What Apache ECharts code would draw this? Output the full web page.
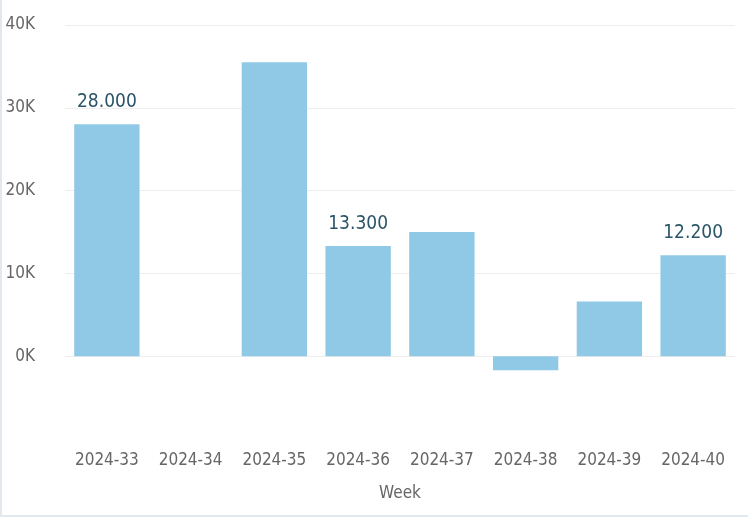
<!DOCTYPE html>
<html><head><meta charset="utf-8">
<script src="https://cdn.jsdelivr.net/npm/echarts@6/dist/echarts.min.js"></script>
<style>html,body{margin:0;padding:0;background:#fff}#c{width:748px;height:517px;box-sizing:border-box;border-left:2px solid #e3e8ee;border-bottom:2px solid #e3e8ee}</style>
</head><body><div id="c"></div>
<script>
const weeks = ['2024-33','2024-34','2024-35','2024-36','2024-37','2024-38','2024-39','2024-40'];
const values = [28000, null, 35500, 13300, 15000, -1700, 6600, 12200];
const labelledWeeks = ['2024-33','2024-36','2024-40'];
const yTicks = [-10000, 0, 10000, 20000, 30000, 40000];

const font = 'Liberation Sans Narrow, DejaVu Sans Condensed, sans-serif';
const chart = echarts.init(document.getElementById('c'));
chart.setOption({
  animation: false,
  grid: {left: 63, right: 13, top: 25, bottom: 76},
  xAxis: {
    type: 'category', data: weeks,
    axisLine: {show: false}, axisTick: {show: false},
    axisLabel: {color: '#666', fontFamily: font, fontSize: 17, margin: 13},
    name: 'Week', nameLocation: 'middle', nameGap: 46,
    nameTextStyle: {color: '#666', fontFamily: font, fontSize: 17}
  },
  yAxis: {
    type: 'value', min: yTicks[0], max: yTicks[yTicks.length-1], interval: 10000,
    axisLabel: {color: '#666', fontFamily: font, fontSize: 17, margin: 30,
      formatter: v => v < 0 ? '' : (v/1000) + 'K'},
    splitLine: {lineStyle: {color: ['rgba(0,0,0,0)', '#eeeeee', '#eeeeee', '#eeeeee', '#eeeeee', '#eeeeee']}}
  },
  series: [{
    type: 'bar', data: values.map((v, i) => ({
      value: v,
      label: {show: labelledWeeks.includes(weeks[i])}
    })),
    barCategoryGap: '22%',
    itemStyle: {color: '#8fc9e5'},
    label: {position: 'top', distance: 13, color: '#2a5568', fontFamily: font, fontSize: 19,
      formatter: p => p.value.toLocaleString('de-DE')}
  }]
});
</script></body></html>
